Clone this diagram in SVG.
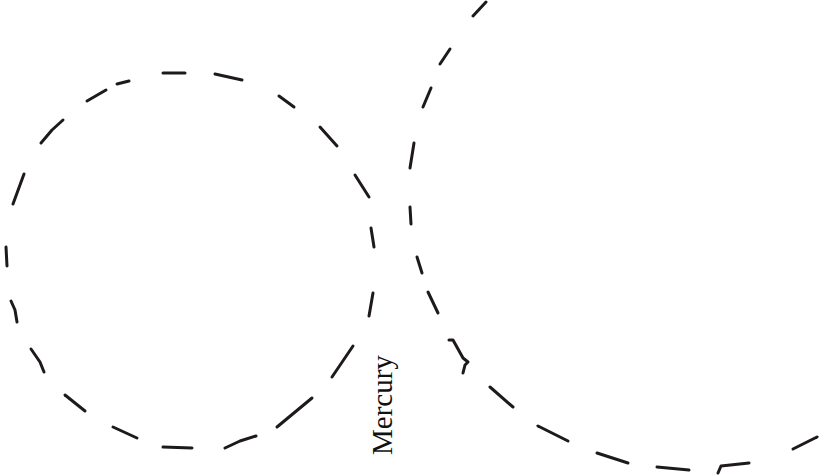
<svg xmlns="http://www.w3.org/2000/svg" width="830" height="476" viewBox="0 0 830 476">
<style>
.d{fill:none;stroke:#1e1a1a;stroke-width:3;stroke-linecap:round;stroke-linejoin:round}
.lbl{font-family:"Liberation Serif","Times New Roman",serif;font-size:29px;fill:#111}
</style>
<rect width="830" height="476" fill="#fff"/>
<g id="circle" class="d">
<path d="M163,73L185,73"/>
<path d="M215,74L242,80"/>
<path d="M117,84L129,81"/>
<path d="M87,101L106,90"/>
<path d="M279,96L294,107"/>
<path d="M41,143L52,130L63,120"/>
<path d="M320,127L337,146"/>
<path d="M13,204L24,174"/>
<path d="M355,175L369,197"/>
<path d="M6,247L7,266"/>
<path d="M371,228L374,247"/>
<path d="M11,301L15,310L17,322"/>
<path d="M373,293L369,316"/>
<path d="M31,349L40,362L44,372"/>
<path d="M353,346L332,377"/>
<path d="M65,395L85,411"/>
<path d="M312,398L277,427"/>
<path d="M113,427L137,438"/>
<path d="M163,447L192,448"/>
<path d="M225,448L240,441L256,436"/>
</g>
<g id="curve" class="d">
<path d="M486,2L473,16"/>
<path d="M450,49L440,64"/>
<path d="M431,88L423,107"/>
<path d="M414,143L410,168"/>
<path d="M410,207L411,224"/>
<path d="M417,257L422,273"/>
<path d="M428,292L438,313"/>
<path d="M449,340L453,340L463,358L468,362L465,365L463,373"/>
<path d="M490,387L513,407"/>
<path d="M538,426L568,441"/>
<path d="M597,453L628,463"/>
<path d="M657,467L689,470"/>
<path d="M718,473L721,466L749,463"/>
<path d="M793,449L817,437"/>
</g>
<g id="mercury">
<text class="lbl" transform="translate(392,455) rotate(-90)">Mercury</text>
</g>
</svg>
